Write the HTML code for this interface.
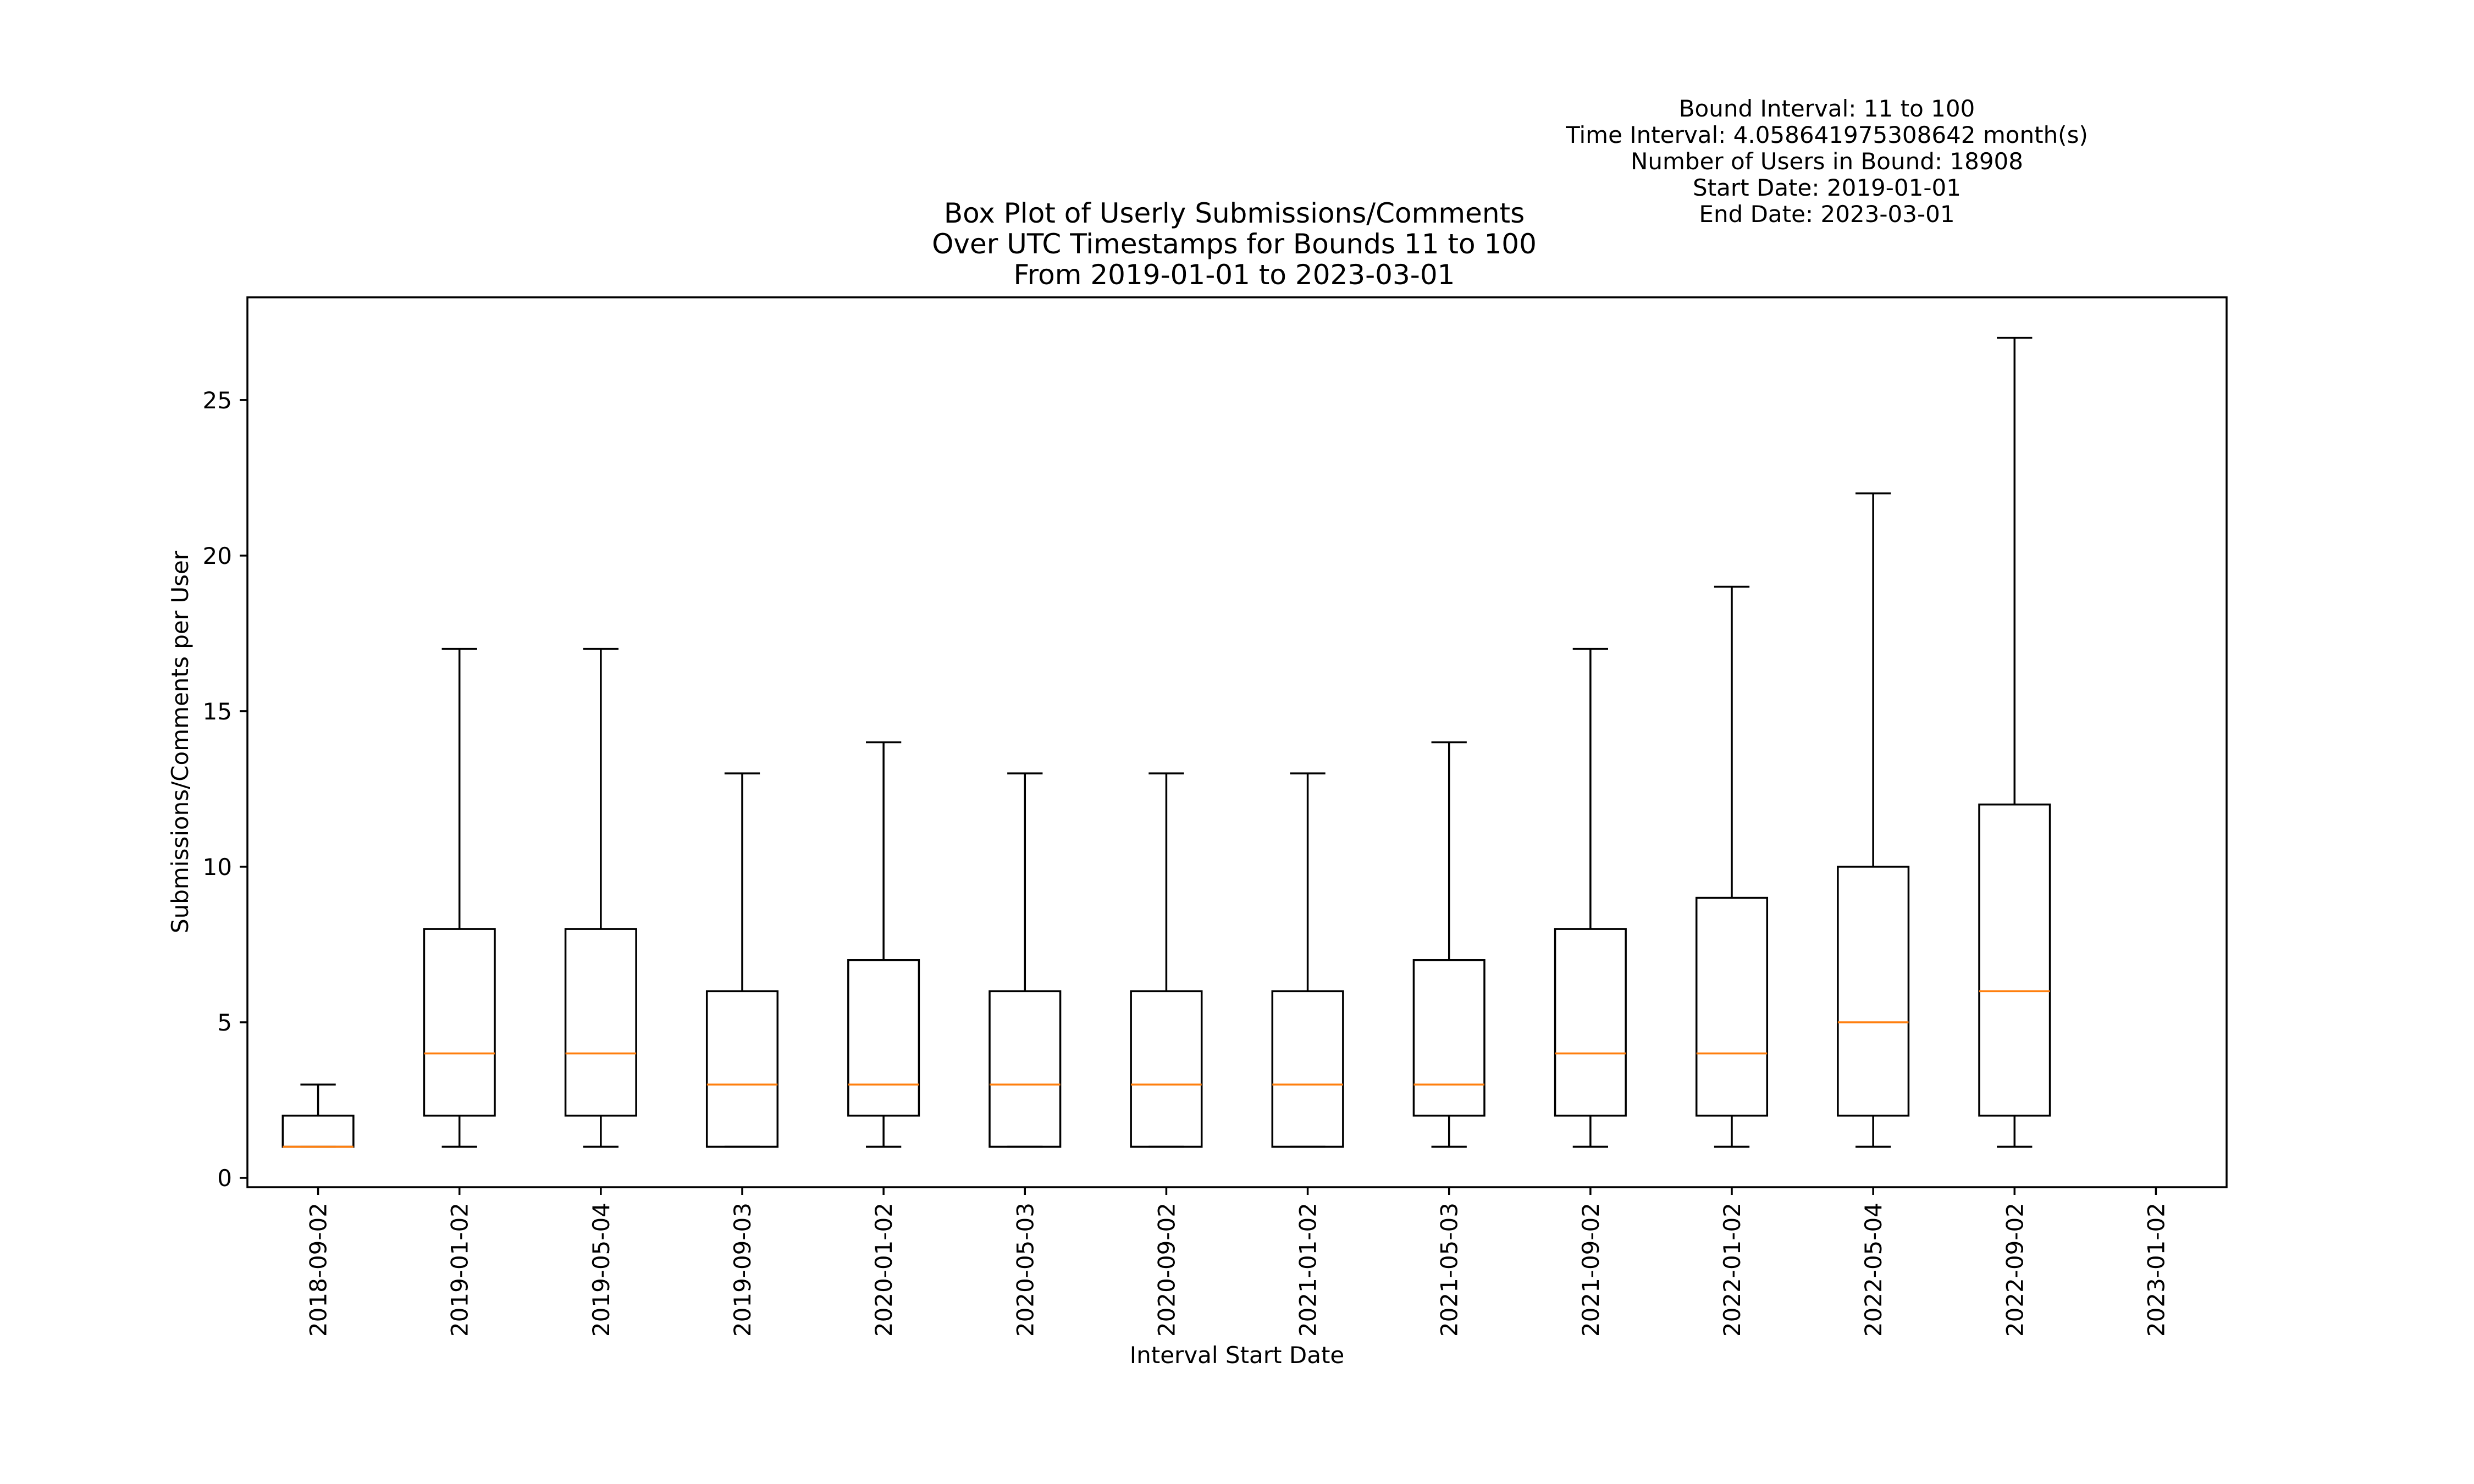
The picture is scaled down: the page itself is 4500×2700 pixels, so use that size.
<!DOCTYPE html>
<html><head><meta charset="utf-8">
<style>
html,body{margin:0;padding:0;background:#fff;}
svg{display:block;font-family:"DejaVu Sans","Liberation Sans",sans-serif;}
</style></head>
<body>
<svg id="chart" width="4500" height="2700" viewBox="0 0 4500 2700" xmlns="http://www.w3.org/2000/svg">
<rect width="4500" height="2700" fill="#fff"/>
<g font-size="42" text-anchor="middle" fill="#000">
<text x="3323" y="212">Bound Interval: 11 to 100</text>
<text x="3323" y="260">Time Interval: 4.058641975308642 month(s)</text>
<text x="3323" y="308">Number of Users in Bound: 18908</text>
<text x="3323" y="356">Start Date: 2019-01-01</text>
<text x="3323" y="404">End Date: 2023-03-01</text>
</g>
<g font-size="50" text-anchor="middle" fill="#000">
<text x="2245" y="405">Box Plot of Userly Submissions/Comments</text>
<text x="2245" y="461">Over UTC Timestamps for Bounds 11 to 100</text>
<text x="2245" y="517">From 2019-01-01 to 2023-03-01</text>
</g>
<text font-size="42" text-anchor="middle" transform="translate(342,1350) rotate(-90)">Submissions/Comments per User</text>
<text font-size="42" text-anchor="middle" x="2250" y="2480">Interval Start Date</text>
<g id="marks"></g>
<g id="axes"></g>
</svg>
<script>
const categories = ["2018-09-02","2019-01-02","2019-05-04","2019-09-03","2020-01-02","2020-05-03","2020-09-02","2021-01-02","2021-05-03","2021-09-02","2022-01-02","2022-05-04","2022-09-02","2023-01-02"];
const q1Values     = [1,2,2,1,2,1,1,1,2,2,2,2,2,null];
const medianValues = [1,4,4,3,3,3,3,3,3,4,4,5,6,null];
const q3Values     = [2,8,8,6,7,6,6,6,7,8,9,10,12,null];
const whiskerLow   = [1,1,1,1,1,1,1,1,1,1,1,1,1,null];
const whiskerHigh  = [3,17,17,13,14,13,13,13,14,17,19,22,27,null];
const yTicks = [0,5,10,15,20,25];

const L=450,R=4050,T=541,B=2160;
const yMin=-0.3,yMax=28.3;
const n=categories.length;
const xs=i=>L+(i+0.5)*(R-L)/n;
const ys=v=>B-(v-yMin)/(yMax-yMin)*(B-T);
const unit=(R-L)/n;
const NS="http://www.w3.org/2000/svg";
const marks=document.getElementById('marks'), axes=document.getElementById('axes');
function mk(parent,tag,attrs){const e=document.createElementNS(NS,tag);for(const k in attrs)e.setAttribute(k,attrs[k]);parent.appendChild(e);return e;}

categories.forEach((c,i)=>{
  const g=mk(marks,'g',{});
  
  
  if(q1Values[i]==null) return;
  const cx=xs(i), hw=unit*0.25, cw=unit*0.125;
  const st={stroke:'#000','stroke-width':3.5,fill:'none'};
  const box=mk(g,'rect',Object.assign({x:cx-hw,y:ys(q3Values[i]),width:2*hw,height:ys(q1Values[i])-ys(q3Values[i])},st));
  
  
  const wl=mk(g,'line',Object.assign({x1:cx,x2:cx,y1:ys(q1Values[i]),y2:ys(whiskerLow[i])},st));
  
  
  const wh=mk(g,'line',Object.assign({x1:cx,x2:cx,y1:ys(q3Values[i]),y2:ys(whiskerHigh[i])},st));
  
  
  const cl=mk(g,'line',Object.assign({x1:cx-cw,x2:cx+cw,y1:ys(whiskerLow[i]),y2:ys(whiskerLow[i])},st));
  
  
  const ch=mk(g,'line',Object.assign({x1:cx-cw,x2:cx+cw,y1:ys(whiskerHigh[i]),y2:ys(whiskerHigh[i])},st));
  
  
  const md=mk(g,'line',{x1:cx-hw,x2:cx+hw,y1:ys(medianValues[i]),y2:ys(medianValues[i]),stroke:'#ff7f0e','stroke-width':3.5});
  
  
});

const frame=mk(axes,'rect',{x:L,y:T,width:R-L,height:B-T,fill:'none',stroke:'#000','stroke-width':3.5});


yTicks.forEach(v=>{
  const y=ys(v);
  const t=mk(axes,'line',{x1:L-14,x2:L,y1:y,y2:y,stroke:'#000','stroke-width':3.5});
  
  
  const tx=mk(axes,'text',{x:L-28,y:y+15,'font-size':42,'text-anchor':'end'});
  tx.textContent=v;
  
  
});
categories.forEach((c,i)=>{
  const x=xs(i);
  const t=mk(axes,'line',{x1:x,x2:x,y1:B,y2:B+14,stroke:'#000','stroke-width':3.5});
  
  
  const tx=mk(axes,'text',{'font-size':42,'text-anchor':'end',transform:`translate(${x+15},${B+28}) rotate(-90)`});
  tx.textContent=c;
  
  
});
</script>
</body></html>
